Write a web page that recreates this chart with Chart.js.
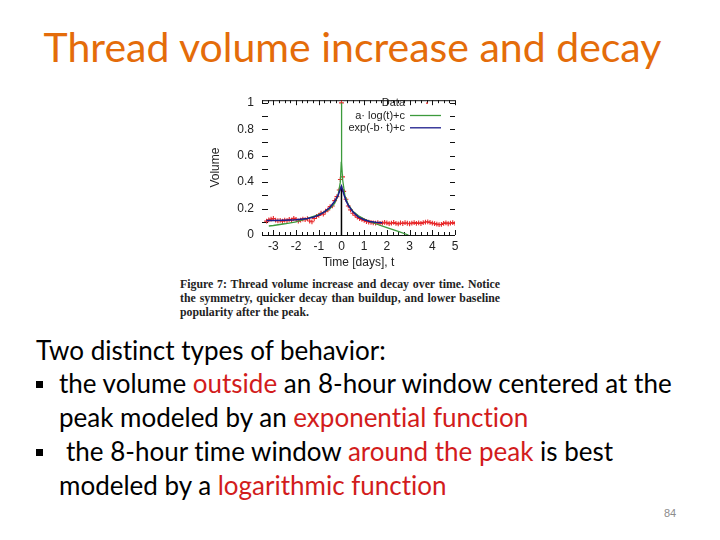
<!DOCTYPE html>
<html>
<head>
<meta charset="utf-8">
<script src="https://cdn.jsdelivr.net/npm/chart.js@4/dist/chart.umd.min.js"></script>
<style>
  html, body { margin: 0; padding: 0; background: #fff; }
  body { width: 720px; height: 540px; position: relative; overflow: hidden; font-family: Lato, "Open Sans", sans-serif; font-variant-ligatures: none; }
  .abs { position: absolute; white-space: nowrap; }
  #title { left: 0; width: 705px; top: 22px; line-height: 50px; text-align: center; font-size: 41px; color: #e46c0a; }
  .body { font-size: 26px; line-height: 34px; color: #000; }
  .red { color: #d21c1c; }
  .bul { display: inline-block; width: 7px; height: 7px; background: #000; position: relative; top: -5px; }
  .cap { font-family: "Liberation Serif", serif; font-weight: bold; font-size: 11.8px; line-height: 14px; color: #222; left: 180px; width: 320px; }
  .just { text-align: justify; text-align-last: justify; }
  #chartBox { position: absolute; left: 200px; top: 85px; width: 270px; height: 190px; }
  #pg { left: 660px; top: 507px; width: 20px; text-align: center; font-size: 11px; color: #8c8c8c; font-family: "Liberation Sans", sans-serif; }
</style>
</head>
<body>
<div id="title" class="abs">Thread volume increase and decay</div>

<div id="chartBox"><canvas id="volChart"></canvas></div>

<div class="abs cap just" style="top:277px">Figure 7: Thread volume increase and decay over time. Notice</div>
<div class="abs cap just" style="top:291px">the symmetry, quicker decay than buildup, and lower baseline</div>
<div class="abs cap" style="top:305px">popularity after the peak.</div>

<div class="abs body" style="left:36px; top:333px">Two distinct types of behavior:</div>
<div class="abs body" style="left:36px; top:366px"><span class="bul"></span></div>
<div class="abs body" style="left:59px; top:366px">the volume <span class="red">outside</span> an 8-hour window centered at the</div>
<div class="abs body" style="left:59px; top:400px">peak modeled by an <span class="red">exponential function</span></div>
<div class="abs body" style="left:36px; top:434px"><span class="bul"></span></div>
<div class="abs body" style="left:66px; top:434px">the 8-hour time window <span class="red">around the peak</span> is best</div>
<div class="abs body" style="left:59px; top:468px">modeled by a <span class="red">logarithmic function</span></div>

<div id="pg" class="abs">84</div>

<script>
// observed thread volume (days from peak, normalised volume)
const dataT = [-3.3, -3.2, -3.1, -3.0, -2.9, -2.8, -2.7, -2.6, -2.5, -2.4, -2.3, -2.2, -2.1, -2.0,
  -1.9, -1.8, -1.7, -1.6, -1.5, -1.4, -1.3, -1.2, -1.1, -1.0, -0.9, -0.8, -0.7, -0.6, -0.5,
  -0.4, -0.3, -0.2, -0.1, -0.05, 0, 0.05, 0.1, 0.2, 0.3, 0.4, 0.5, 0.6, 0.7, 0.8, 0.9, 1.0,
  1.1, 1.2, 1.3, 1.4, 1.5, 1.6, 1.7, 1.8, 1.9, 2.0, 2.1, 2.2, 2.3, 2.4, 2.5, 2.6, 2.7, 2.8,
  2.9, 3.0, 3.1, 3.2, 3.3, 3.4, 3.5, 3.6, 3.7, 3.8, 3.9, 4.0, 4.1, 4.2, 4.3, 4.4, 4.5, 4.6,
  4.7, 4.8, 4.9, 5.0];
const dataV = [0.105, 0.115, 0.12, 0.125, 0.112, 0.108, 0.11, 0.104, 0.113, 0.108, 0.118, 0.112, 0.126, 0.118,
  0.105, 0.112, 0.12, 0.116, 0.124, 0.106, 0.1, 0.125, 0.14, 0.148, 0.165, 0.158, 0.18, 0.19, 0.215,
  0.22, 0.26, 0.29, 0.34, 0.42, 1.0, 0.44, 0.33, 0.27, 0.22, 0.19, 0.165, 0.15, 0.135, 0.125, 0.118, 0.11,
  0.102, 0.098, 0.095, 0.092, 0.09, 0.094, 0.088, 0.09, 0.096, 0.092, 0.086, 0.09, 0.095, 0.088, 0.084, 0.091, 0.087, 0.093,
  0.089, 0.085, 0.09, 0.094, 0.088, 0.092, 0.087, 0.094, 0.098, 0.1, 0.095, 0.09, 0.086, 0.082, 0.078, 0.08, 0.088, 0.092,
  0.085, 0.09, 0.094, 0.088];

// a*log(t)+c fit, both sides of the peak
const logT = [-3.2, -3.0, -2.5, -2.0, -1.5, -1.0, -0.75, -0.5, -0.3, -0.15, -0.05, -0.01, 0,
  0.01, 0.05, 0.15, 0.3, 0.5, 0.75, 1.0, 1.5, 2.0, 2.5, 2.95];
const logV = [0.068, 0.072, 0.085, 0.1, 0.125, 0.155, 0.175, 0.2, 0.24, 0.3, 0.4, 0.55, 1.0,
  0.55, 0.42, 0.3, 0.23, 0.18, 0.145, 0.12, 0.085, 0.055, 0.027, 0.0];

// exp(-b*t)+c fit
const expT = [-3.3, -3.0, -2.5, -2.0, -1.5, -1.25, -1.0, -0.75, -0.5, -0.3, -0.15, 0,
  0.05, 0.1, 0.2, 0.3, 0.5, 0.75, 1.0, 1.25, 1.5, 1.8];
const expV = [0.11, 0.11, 0.112, 0.115, 0.125, 0.135, 0.15, 0.175, 0.21, 0.255, 0.3, 0.37,
  0.34, 0.31, 0.26, 0.225, 0.175, 0.135, 0.115, 0.102, 0.096, 0.092];

// peak marker line at t = 0
const peakT = [0, 0];
const peakV = [0, 0.37];

const xTicks = [-3, -2, -1, 0, 1, 2, 3, 4, 5];
const yTicks = [0, 0.2, 0.4, 0.6, 0.8, 1];
const yMinor = [0, 0.1, 0.2, 0.3, 0.4, 0.5, 0.6, 0.7, 0.8, 0.9, 1.0];
const legendLabels = ['Data', 'a\u00b7 log(t)+c', 'exp(-b\u00b7 t)+c'];

function pts(xs, ys) {
  return xs.map((x, i) => ({ x: x, y: ys[i] }));
}

const axisFont = { family: '"Liberation Sans", Arial, sans-serif', size: 12 };

// gnuplot style frame: top/bottom border with inward ticks, dashes on left/right
const framePlugin = {
  id: 'frame',
  beforeDatasetsDraw(chart) {
    const { ctx, chartArea: a, scales } = chart;
    const xs = scales.x, ys = scales.y;
    ctx.save();
    ctx.strokeStyle = '#111';
    ctx.lineWidth = 1;
    ctx.beginPath();
    ctx.moveTo(a.left, a.bottom + 0.5); ctx.lineTo(a.right, a.bottom + 0.5);
    ctx.moveTo(a.left, a.top + 0.5); ctx.lineTo(a.right, a.top + 0.5);
    for (let v = -3.5; v <= 5.001; v += 0.25) {
      const px = Math.round(xs.getPixelForValue(v)) + 0.5;
      const len = Math.abs(v - Math.round(v)) < 0.01 ? 5 : 3;
      ctx.moveTo(px, a.bottom); ctx.lineTo(px, a.bottom - len);
      ctx.moveTo(px, a.top); ctx.lineTo(px, a.top + len);
    }
    yMinor.forEach(v => {
      const py = Math.round(ys.getPixelForValue(v)) + 0.5;
      ctx.moveTo(a.left, py); ctx.lineTo(a.left + 6, py);
      ctx.moveTo(a.right - 5, py); ctx.lineTo(a.right, py);
    });
    ctx.stroke();
    ctx.restore();
  },
  afterDatasetsDraw(chart) {
    // key in the upper right, like the original plot
    const { ctx, chartArea: a } = chart;
    const sets = chart.data.datasets.slice(0, 3);
    ctx.save();
    ctx.font = '11px "Liberation Sans", Arial, sans-serif';
    ctx.textAlign = 'right';
    ctx.textBaseline = 'middle';
    const textX = a.right - 50;
    sets.forEach((ds, i) => {
      const y = a.top + 3 + i * 12.3;
      ctx.fillStyle = '#222';
      ctx.fillText(legendLabels[i], textX, y);
      ctx.strokeStyle = ds.borderColor;
      ctx.lineWidth = 1.3;
      ctx.beginPath();
      if (i === 0) {
        ctx.moveTo(textX + 21, y); ctx.lineTo(textX + 23, y);
      } else {
        ctx.moveTo(textX + 5, y); ctx.lineTo(textX + 36, y);
      }
      ctx.stroke();
    });
    ctx.restore();
  }
};

new Chart(document.getElementById('volChart'), {
  type: 'scatter',
  data: {
    datasets: [
      {
        label: legendLabels[0],
        data: pts(dataT, dataV),
        showLine: false,
        borderColor: '#e8282a',
        backgroundColor: '#e8282a',
        pointStyle: 'cross',
        pointRadius: 2.4,
        pointBorderWidth: 1.1,
        order: 3
      },
      {
        label: legendLabels[1],
        data: pts(logT, logV),
        showLine: true,
        borderColor: '#3c9a3c',
        borderWidth: 1.3,
        pointRadius: 0,
        order: 1
      },
      {
        label: legendLabels[2],
        data: pts(expT, expV),
        showLine: true,
        borderColor: '#1c1c8c',
        borderWidth: 1.5,
        pointRadius: 0,
        order: 0
      },
      {
        label: 'peak',
        data: pts(peakT, peakV),
        showLine: true,
        borderColor: '#000',
        borderWidth: 1.5,
        pointRadius: 0,
        order: 2
      }
    ]
  },
  options: {
    responsive: true,
    maintainAspectRatio: false,
    animation: false,
    layout: { padding: { left: 0, right: 15, top: 13, bottom: 0 } },
    plugins: { legend: { display: false }, tooltip: { enabled: false } },
    scales: {
      x: {
        type: 'linear',
        min: -3.5,
        max: 5,
        afterBuildTicks: s => { s.ticks = xTicks.map(v => ({ value: v })); },
        afterFit: s => { s.height = 40; },
        grid: { display: false, drawTicks: false },
        border: { display: false },
        ticks: { font: axisFont, color: '#222', padding: 4, maxRotation: 0 },
        title: { display: true, text: 'Time [days], t', font: axisFont, color: '#222', padding: { top: 0, bottom: 5 } }
      },
      y: {
        type: 'linear',
        min: 0,
        max: 1.02,
        afterBuildTicks: s => { s.ticks = yTicks.map(v => ({ value: v })); },
        afterFit: s => { s.width = 62; },
        grid: { display: false, drawTicks: false },
        border: { display: false },
        ticks: { font: axisFont, color: '#222', padding: 8, callback: v => String(v) },
        title: { display: true, text: 'Volume', font: axisFont, color: '#222', padding: { top: 8, bottom: 0 } }
      }
    }
  },
  plugins: [framePlugin]
});
</script>
</body>
</html>
